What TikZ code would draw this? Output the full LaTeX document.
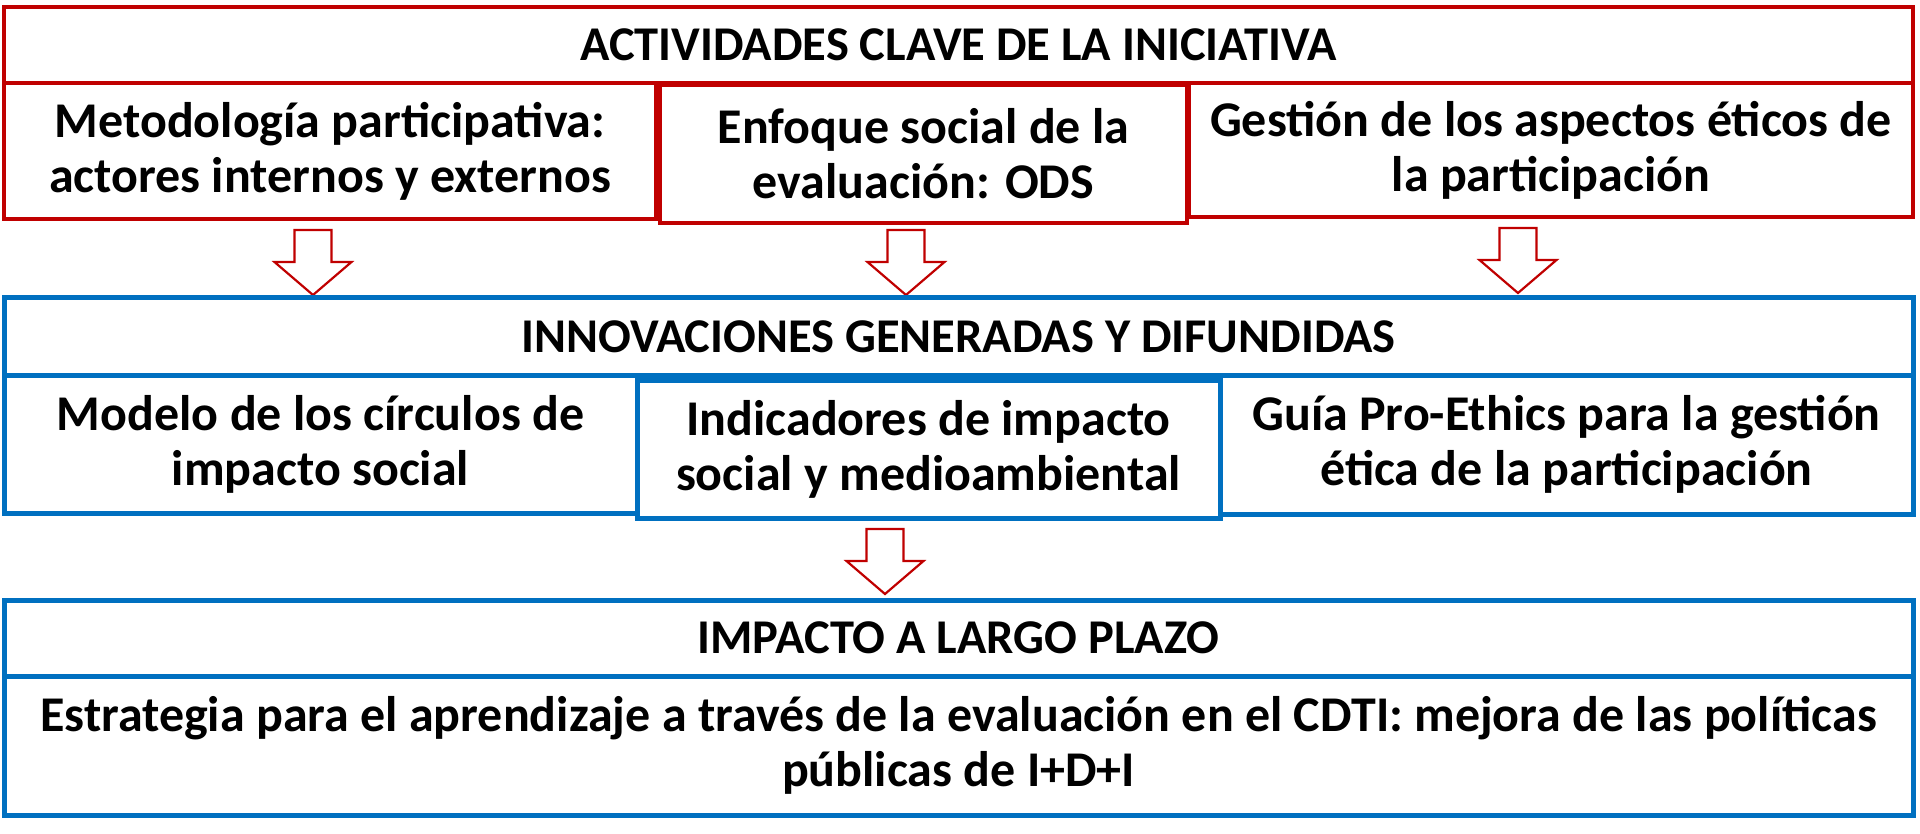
\documentclass[tikz,border=0pt]{standalone}
\usepackage{fontspec}
\setmainfont{Carlito}
\definecolor{boxred}{HTML}{C00000}
\definecolor{boxblue}{HTML}{0070C0}
\tikzset{
  base/.style={rectangle, inner sep=0pt, outer sep=0pt, align=center,
    font=\bfseries\fontsize{50}{55}\selectfont, text=black, fill=white},
  titlefont/.style={font=\bfseries\fontsize{48.5}{55}\selectfont},
  redbox/.style={base, draw=boxred, line width=4.5pt},
  bluebox/.style={base, draw=boxblue, line width=5pt},
  arrowline/.style={draw=boxred, line width=2.2pt, fill=white, line join=miter},
  downarrow/.pic={\path[arrowline] (-18.5,0) -- (-18.5,32) -- (-38.5,32) -- (0,65) -- (38.5,32) -- (18.5,32) -- (18.5,0) -- cycle;}
}
\begin{document}
\begin{tikzpicture}[x=1pt,y=-1pt]
\useasboundingbox[fill=white] (0,0) rectangle (1920,834);
% --- top red block
\node[redbox, titlefont, minimum width=1909pt, minimum height=76pt] (act) at (958.5,45) {ACTIVIDADES CLAVE DE LA INICIATIVA};
\node[redbox, minimum width=652pt, minimum height=136pt] (a1) at (330,151) {Metodología participativa:\\actores internos y externos};
\node[redbox, minimum width=724pt, minimum height=134pt] (a3) at (1551,150) {Gestión de los aspectos éticos de\\la participación};
\node[redbox, minimum width=527pt, minimum height=138pt] (a2) at (923.5,154) {Enfoque social de la\\evaluación: ODS};
% arrows
\pic at (313,230) {downarrow};
\pic at (906,230) {downarrow};
\pic at (1518,228) {downarrow};
% --- blue block
\node[bluebox, titlefont, minimum width=1909pt, minimum height=77pt] (inn) at (958.5,336.5) {INNOVACIONES GENERADAS Y DIFUNDIDAS};
\node[bluebox, minimum width=633pt, minimum height=138pt] (b1) at (320.5,444) {Modelo de los círculos de\\impacto social};
\node[bluebox, minimum width=693pt, minimum height=139pt] (b3) at (1566.5,444.5) {Guía Pro-Ethics para la gestión\\ética de la participación};
\node[bluebox, minimum width=583pt, minimum height=138pt] (b2) at (928.5,449) {Indicadores de impacto\\social y medioambiental};
\pic at (885,529) {downarrow};
% --- bottom block
\node[bluebox, titlefont, minimum width=1909pt, minimum height=76pt] (imp) at (958.5,638) {IMPACTO A LARGO PLAZO};
\node[bluebox, minimum width=1909pt, minimum height=139pt] (est) at (958.5,745.5) {Estrategia para el aprendizaje a través de la evaluación en el CDTI: mejora de las políticas\\públicas de I+D+I};
\end{tikzpicture}
\end{document}
